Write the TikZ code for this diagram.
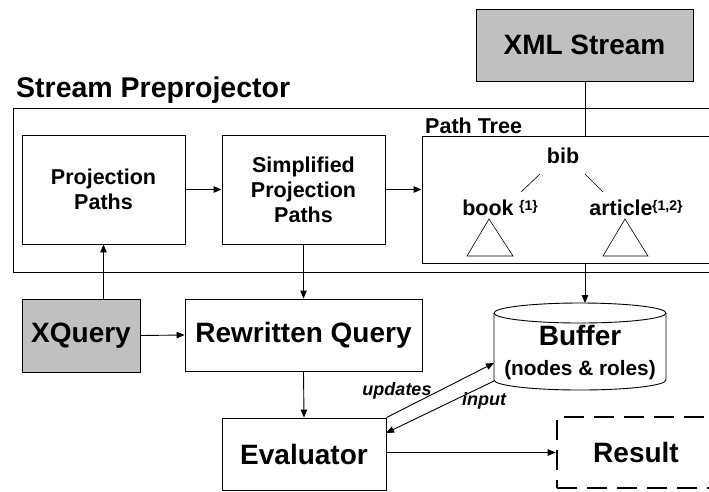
\documentclass[tikz,border=0pt]{standalone}
\usepackage{fontspec}
\setmainfont{Liberation Sans}
\usetikzlibrary{arrows.meta}
\definecolor{boxgray}{HTML}{C0C0C0}
\tikzset{
  box/.style={draw, line width=0.9pt, inner sep=0pt, align=center, font=\bfseries},
  big/.style={font=\fontsize{28}{30}\selectfont\bfseries},
  mid/.style={font=\fontsize{21.5}{25}\selectfont\bfseries},
  arr/.style={line width=0.9pt, -{Triangle[length=8pt,width=6.5pt]}},
  ln/.style={line width=0.9pt},
  tag/.style={font=\fontsize{18}{20}\selectfont\bfseries\itshape, inner sep=0pt}
}
\begin{document}
\begin{tikzpicture}[x=1pt,y=-1pt]
\useasboundingbox (0,0) rectangle (709,491);
\clip (0,0) rectangle (709,491);

% stream preprojector frame
\node[anchor=base west, inner sep=0pt, font=\fontsize{28.5}{30}\selectfont\bfseries] (sptitle) at (16,97) {Stream Preprojector};
\draw[ln] (13,108) rectangle (720,272);

% top input
\node[box, big, fill=boxgray, minimum width=217pt, minimum height=72pt] (xml) at (584.5,45) {XML Stream};

% path boxes
\node[box, mid, minimum width=163pt, minimum height=109pt] (pp) at (103.5,189.5) {Projection\\Paths};
\node[box, mid, minimum width=163pt, minimum height=109pt] (spp) at (303.5,189.5) {Simplified\\Projection\\Paths};

% path tree
\node[box, minimum width=300pt, minimum height=127pt] (ptree) at (572,199.5) {};
\node[anchor=base west, inner sep=0pt, mid] (ptlabel) at (425,133) {Path Tree};
\node[anchor=base, inner sep=0pt, mid] (bib) at (563,163) {bib};
\node[anchor=base, inner sep=0pt, mid] (book) at (488,215) {book};
\node[anchor=base, inner sep=0pt, mid] (article) at (621,215) {article};
\node[anchor=base west, inner sep=0pt, font=\fontsize{14}{16}\selectfont\bfseries] (booksup) at (519,210) {\{1\}};
\node[anchor=base west, inner sep=0pt, font=\fontsize{14}{16}\selectfont\bfseries] (artsup) at (652,210) {\{1,2\}};
\draw[line width=0.6pt] (540,174) -- (521,192);
\draw[line width=0.6pt] (585,174) -- (603,192);
\draw[line width=0.6pt] (489,219) -- (467,256) -- (513,256) -- cycle;
\draw[line width=0.6pt] (625,219) -- (603,256) -- (648,256) -- cycle;

% lower row
\node[box, big, fill=boxgray, minimum width=118pt, minimum height=73pt] (xq) at (81,335.5) {XQuery};
\node[box, big, minimum width=237pt, minimum height=72pt] (rq) at (303.5,335) {Rewritten Query};
\node[box, big, minimum width=164pt, minimum height=72pt] (ev) at (304,454) {Evaluator};
\node[box, big, dashed, dash pattern=on 20pt off 10pt, line width=2.6pt, minimum width=158pt, minimum height=71pt] (res) at (636,452.5) {Result};

% buffer cylinder
\draw[line width=0.9pt, fill=white] (494,313) -- (494,380) arc[start angle=180, end angle=360, x radius=86pt, y radius=10pt] -- (666,313);
\draw[line width=0.9pt] (580,313) ellipse[x radius=86pt, y radius=10pt];
\node[inner sep=0pt, minimum width=172pt, minimum height=87pt] (buf) at (580,346.5) {};
\node[anchor=base, inner sep=0pt, font=\fontsize{28}{30}\selectfont\bfseries] (buftitle) at (580,345) {Buffer};
\node[anchor=base, inner sep=0pt, font=\fontsize{20.8}{24}\selectfont\bfseries] (bufsub) at (580,375) {(nodes \& roles)};
\coordinate (buftop) at (585,303);
\coordinate (bufin) at (494,363);
\coordinate (bufout) at (494,381);
\coordinate (evin) at (386,433);

% connectors
\draw[ln] (xml.south -| buftop) -- (ptree.north -| buftop);
\draw[arr] (ptree.south -| buftop) -- (buftop);
\draw[arr] (pp.east) -- (spp.west);
\draw[arr] (spp.east) -- (ptree.west |- spp.east);
\draw[arr] (xq.north -| pp.south) -- (pp.south);
\draw[arr] (spp.south) -- (rq.north);
\draw[arr] (xq.east) -- (rq.west);
\draw[arr] (rq.south) -- (ev.north);
\draw[arr] (ev.north east) -- (bufin);
\draw[arr] (bufout) -- (evin);
\draw[arr] (ev.east |- res.west) -- (res.west);

% connector labels
\node[tag, anchor=base] (updlbl) at (397,395) {updates};
\node[tag, anchor=base] (inplbl) at (484,405) {input};
\end{tikzpicture}
\end{document}
